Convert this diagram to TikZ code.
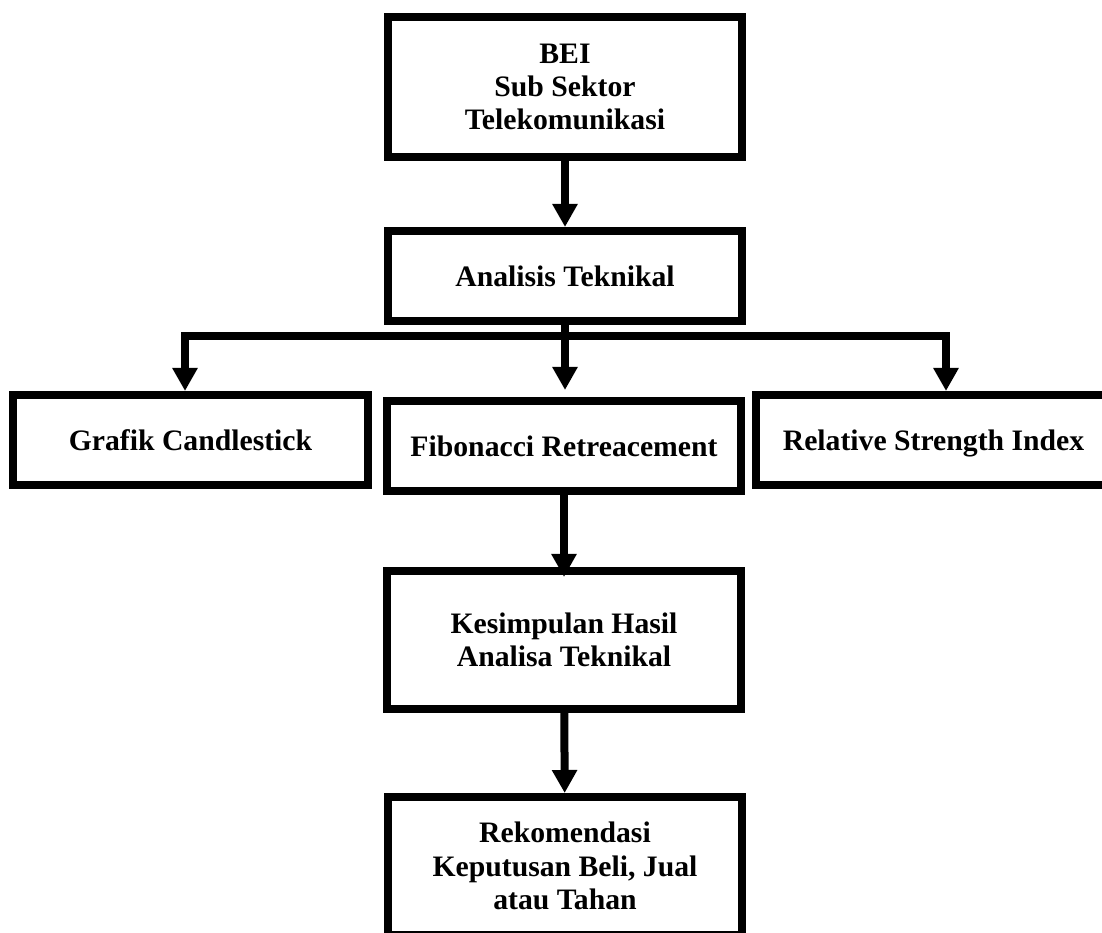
\documentclass[tikz,border=0pt]{standalone}
\usepackage{fontspec}
\setmainfont{Liberation Serif}
\usepackage{tikz}
\usetikzlibrary{arrows.meta,positioning,calc}
\tikzset{
  >={Triangle[length=4.6mm,width=4.8mm]},
  % kotak
  kotak/.style={draw=black,line width=0.16cm,fill=white,align=center,
                minimum width=7.08cm,minimum height=1.8cm,inner sep=2pt,
                font=\fontsize{16.9}{19}\selectfont\bfseries},
  % panah
  panah/.style={->,draw=black,line width=0.16cm},
  garis/.style={draw=black,line width=0.16cm},
}
\begin{document}
\begin{tikzpicture}
\useasboundingbox (0,0) rectangle (22.04,18.66);
  \node[kotak,minimum height=2.8cm] (bei) at (11.30,16.92) {BEI\\Sub Sektor\\Telekomunikasi};
  \node[kotak] (ana) at (11.30,13.14) {Analisis Teknikal};
  \node[kotak,minimum width=7.1cm] (graf) at (3.81,9.86) {Grafik Candlestick};
  \node[kotak] (fib) at (11.28,9.74) {Fibonacci Retreacement};
  \node[kotak,minimum width=7.1cm,text depth=0pt] (rsi) at (18.67,9.86) {Relative Strength Index};
  \node[kotak,minimum height=2.76cm] (kes) at (11.28,5.86) {Kesimpulan Hasil\\Analisa Teknikal};
  \node[kotak,minimum height=2.76cm] (rek) at (11.30,1.34) {Rekomendasi\\Keputusan Beli, Jual\\atau Tahan};
  \coordinate (split) at ($(ana.south)+(0,-0.22)$);
  \draw[panah] (bei) -- (ana);
  \draw[garis] (ana.south) -- (split);
  \draw[panah] (split) -| ([xshift=-0.11cm]graf.north);
  \draw[panah] (split) -| ([xshift=0.25cm]rsi.north);
  \draw[panah,shorten >=0.14cm] (split) -- (split |- fib.north);
  \draw[panah,shorten >=-0.2cm] (fib) -- (kes);
  \draw[panah] (kes) -- (rek);
\end{tikzpicture}
\end{document}
